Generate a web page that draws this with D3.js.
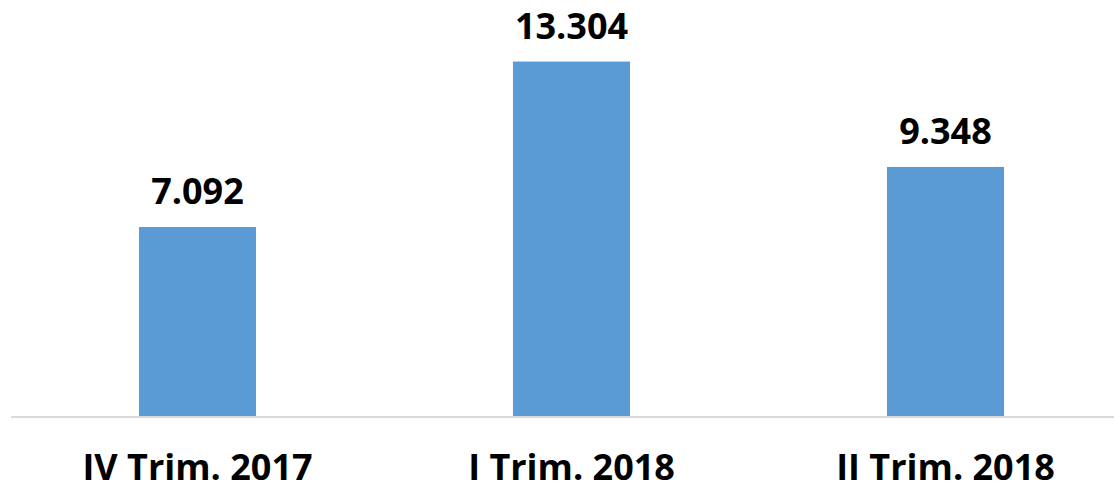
<!DOCTYPE html>
<html>
<head>
<meta charset="utf-8">
<script src="https://cdn.jsdelivr.net/npm/d3@7"></script>
<style>
  body { margin: 0; background: #fff; }
  text { font-family: "Open Sans", sans-serif; font-weight: bold; fill: #000; }
</style>
</head>
<body>
<div id="chart"></div>
<script>
// data
var categories = ["IV Trim. 2017", "I Trim. 2018", "II Trim. 2018"];
var values = [7.092, 13.304, 9.348];
var valueLabels = ["7.092", "13.304", "9.348"];

var svgWidth = 1114;
var svgHeight = 491;

var svg = d3.select("#chart")
  .append("svg")
  .attr("width", svgWidth)
  .attr("height", svgHeight);

// plot area runs a bit past the right edge, like the original crop
var xScale = d3.scaleBand()
  .domain(categories)
  .range([10.5, 1132.5])
  .paddingInner(0.687)
  .paddingOuter(0.3435);

var yScale = d3.scaleLinear()
  .domain([0, 14])
  .range([416, 43]);

// bars
svg.selectAll("rect.bar")
  .data(values)
  .enter()
  .append("rect")
  .attr("class", "bar")
  .attr("x", (d, i) => xScale(categories[i]))
  .attr("y", d => yScale(d))
  .attr("width", xScale.bandwidth())
  .attr("height", d => yScale(0) - yScale(d))
  .attr("fill", "#5b9bd5");

// baseline
svg.append("line")
  .attr("x1", 11)
  .attr("x2", 1114)
  .attr("y1", yScale(0) + 1)
  .attr("y2", yScale(0) + 1)
  .attr("stroke", "#d9d9d9")
  .attr("stroke-width", 2);

// value labels
svg.selectAll("text.value")
  .data(values)
  .enter()
  .append("text")
  .attr("class", "value")
  .attr("x", (d, i) => xScale(categories[i]) + xScale.bandwidth() / 2)
  .attr("y", d => yScale(d) - 23)
  .attr("text-anchor", "middle")
  .style("font-size", "36px")
  .text((d, i) => valueLabels[i]);

// category labels
var xAxis = d3.axisBottom(xScale).tickSize(0).tickPadding(0);
var axisG = svg.append("g")
  .call(xAxis);
axisG.select(".domain").remove();
axisG.selectAll("text")
  .attr("y", 480)
  .attr("dy", null)
  .style("font-size", "36px")
  .style("font-family", "'Open Sans', sans-serif")
  .style("font-weight", "bold")
  .attr("fill", "#000");
</script>
</body>
</html>
